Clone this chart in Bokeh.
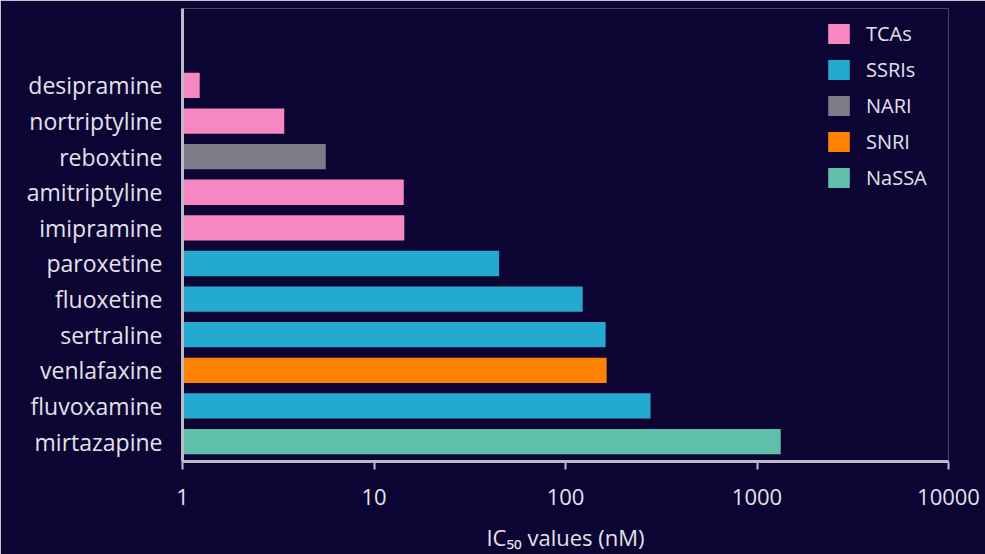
from bokeh.plotting import figure
from bokeh.models import FixedTicker, NumeralTickFormatter, Legend, LegendItem
from bokeh.embed import file_html
from bokeh.resources import INLINE

drugs = ["desipramine", "nortriptyline", "reboxtine", "amitriptyline", "imipramine",
         "paroxetine", "fluoxetine", "sertraline", "venlafaxine", "fluvoxamine", "mirtazapine"]
ic50 = [1.23, 3.4, 5.6, 14.3, 14.4, 45, 123, 162, 164, 278, 1330]
drug_class = ["TCAs", "TCAs", "NARI", "TCAs", "TCAs", "SSRIs", "SSRIs", "SSRIs",
              "SNRI", "SSRIs", "NaSSA"]
class_names = ["TCAs", "SSRIs", "NARI", "SNRI", "NaSSA"]
class_colors = ["#f787c1", "#24a9d1", "#7f7b88", "#ff8200", "#5fbfaa"]
x_ticks = [1, 10, 100, 1000, 10000]

BG = "#0c0433"
FG = "#e4e1ec"
AX = "#bdb9c9"
FONT = "Open Sans"

n = len(drugs)
ypos = [n - 1 - i for i in range(n)]

p = figure(width=985, height=554, x_axis_type="log", x_range=(1, 10000),
           y_range=(-0.56, n - 1 + 2.16), output_backend="svg", toolbar_location=None,
           min_border_left=182, min_border_right=37, min_border_top=8, min_border_bottom=92)
p.background_fill_color = BG
p.border_fill_color = BG
p.outline_line_color = None
p.border_line_color = None
p.border_line_alpha = 0
p.grid.visible = False

items = []
for cname, col in zip(class_names, class_colors):
    ys = [ypos[i] for i in range(n) if drug_class[i] == cname]
    xs = [ic50[i] for i in range(n) if drug_class[i] == cname]
    r = p.hbar(y=ys, right=xs, left=1, height=0.71, fill_color=col, line_color=None)
    items.append(LegendItem(label=cname, renderers=[r]))

legend = Legend(items=items, location=(643, 270), padding=0, margin=0, spacing=9,
                glyph_width=27, glyph_height=25, label_height=25, label_standoff=14,
                label_text_color=FG, label_text_font=FONT, label_text_font_size="20px",
                background_fill_alpha=0, border_line_color=None)
p.add_layout(legend)

# x axis
xa = p.xaxis[0]
xa.ticker = FixedTicker(ticks=x_ticks, minor_ticks=[])
xa.formatter = NumeralTickFormatter(format="0")
xa.axis_line_color = AX
xa.axis_line_width = 3
xa.major_tick_line_color = AX
xa.major_tick_line_width = 2
xa.major_tick_in = 0
xa.major_tick_out = 8
xa.minor_tick_line_color = None
xa.major_label_text_color = FG
xa.major_label_text_font = FONT
xa.major_label_text_font_size = "22px"
xa.major_label_standoff = 19
xa.axis_label = "IC\u2085\u2080 values (nM)"
xa.axis_label_text_color = FG
xa.axis_label_text_font = FONT
xa.axis_label_text_font_size = "22px"
xa.axis_label_text_font_style = "normal"
xa.axis_label_standoff = 14

# y axis
ya = p.yaxis[0]
ya.ticker = FixedTicker(ticks=ypos)
ya.major_label_overrides = {ypos[i]: drugs[i] for i in range(n)}
ya.axis_line_color = AX
ya.axis_line_width = 3
ya.major_tick_line_color = None
ya.minor_tick_line_color = None
ya.major_label_text_color = FG
ya.major_label_text_font = FONT
ya.major_label_text_font_size = "23px"
ya.major_label_standoff = 14

html = file_html(p, INLINE)
html = html.replace("<body>", '<body style="margin:0;background-color:%s;">' % BG, 1)
open("out.html", "w").write(html)
